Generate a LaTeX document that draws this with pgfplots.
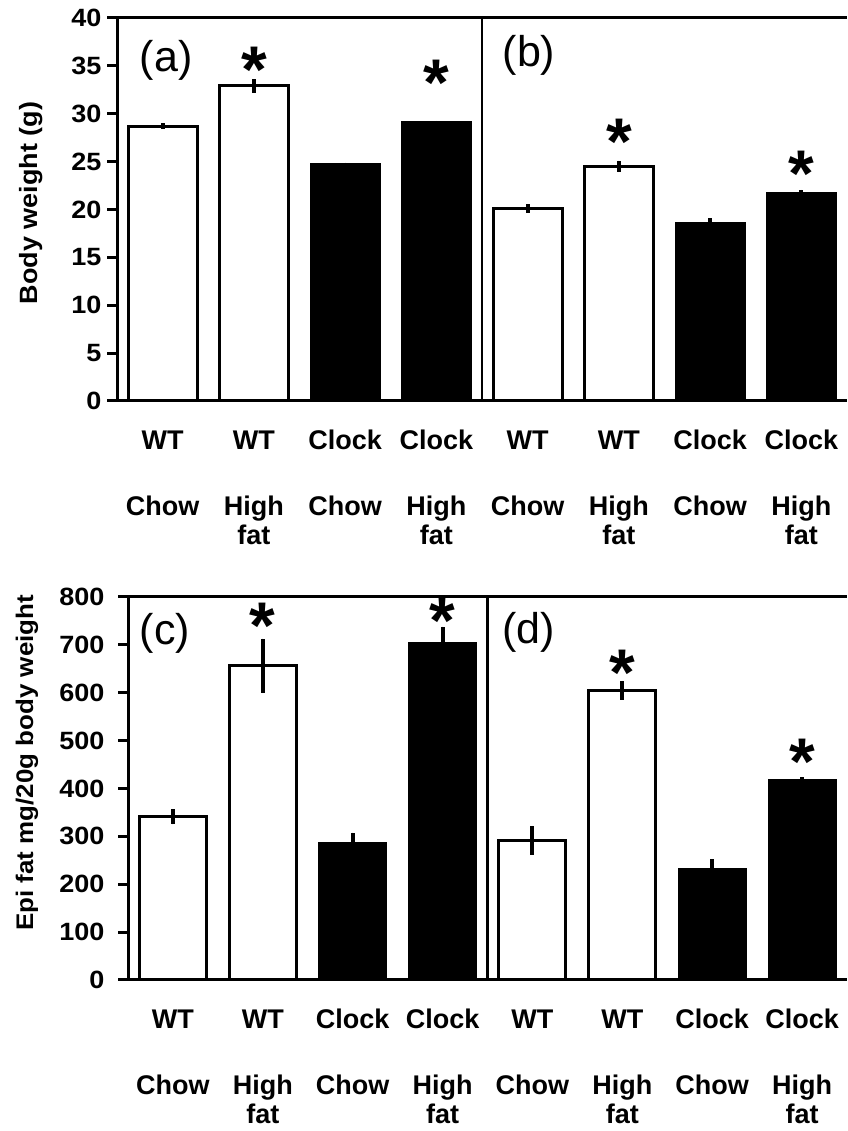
\documentclass[border=0pt]{standalone}
\usepackage{fontspec}
\setmainfont{Liberation Sans}
\newfontfamily\widefont{Liberation Sans}[FakeStretch=1.08]
\usepackage{pgfplots}
\pgfplotsset{compat=1.18}
\newcommand{\tickfont}{\widefont\fontsize{25}{25}\selectfont\bfseries}
\newcommand{\catfont}{\fontsize{27}{29}\selectfont\bfseries}
\newcommand{\panfont}{\fontsize{43}{43}\selectfont}
\newcommand{\starfont}{\fontsize{66}{66}\selectfont\bfseries}
\newcommand{\fl}{\rule{0pt}{20pt}}
\pgfplotsset{
  panel/.style={
    scale only axis,
    height=383pt,
    xmin=-0.5, xmax=7.5, ymin=0,
    axis lines*=left,
    axis line style={line width=3pt},
    ybar, bar shift=0pt,
    clip=false,
    tick align=outside,
    major tick length=10pt,
    ytick style={line width=3pt, black},
    xtick={0,...,7},
    xtick style={draw=none},
    xticklabels={{\fl WT\\[37pt]Chow},{\fl WT\\[37pt]High\\fat},{\fl Clock\\[37pt]Chow},{\fl Clock\\[37pt]High\\fat},{\fl WT\\[37pt]Chow},{\fl WT\\[37pt]High\\fat},{\fl Clock\\[37pt]Chow},{\fl Clock\\[37pt]High\\fat}},
    xticklabel style={align=center, anchor=north, inner sep=0pt, yshift=-18pt, font=\catfont},
    yticklabel style={font=\tickfont},
    /pgf/number format/assume math mode=true,
    ylabel style={anchor=center},
  },
  whitebar/.style={fill=white, draw=black, line width=3pt,
    error bars/.cd, y dir=both, y explicit, error mark=none,
    error bar style={line width=4pt, black}},
  blackbar/.style={fill=black, draw=black, line width=2pt,
    error bars/.cd, y dir=both, y explicit, error mark=none,
    error bar style={line width=4pt, black}},
}
\begin{document}
\begin{tikzpicture}
\path[use as bounding box] (0,0) rectangle (847pt,1131pt);
% Top panel: (a) and (b)
\begin{axis}[panel,
  at={(117pt,730pt)}, anchor=south west,
  width=730pt, bar width=69pt,
  ymax=40, ytick={0,5,...,40},
  yticklabel style={xshift=-2pt},
  ylabel={Body weight (g)},
  ylabel style={at={(axis description cs:-0.118,0.517)}, font=\widefont\fontsize{25}{25}\selectfont\bfseries},
]
\addplot[whitebar] coordinates {(0,28.7) +- (0,0.3) (1,32.9) +- (0,0.7) (4,20.1) +- (0,0.45) (5,24.5) +- (0,0.6)};
\addplot[blackbar] coordinates {(2,24.75) +- (0,0.15) (3,29.1) +- (0,0.15) (6,18.6) +- (0,0.5) (7,21.75) +- (0,0.3)};
\draw[line width=3pt] (rel axis cs:0,1) -- (rel axis cs:1,1);
\draw[line width=2.5pt] (axis cs:3.5,0) -- (axis cs:3.5,40);
\node[font=\panfont, anchor=center] at (axis cs:0.04,35.6) {(a)};
\node[font=\panfont, anchor=center] at (axis cs:4.015,36.1) {(b)};
\node[font=\starfont, anchor=north, inner sep=0pt] at (axis cs:1,37.0) {*};
\node[font=\starfont, anchor=north, inner sep=0pt] at (axis cs:3,35.6) {*};
\node[font=\starfont, anchor=north, inner sep=0pt] at (axis cs:5,29.5) {*};
\node[font=\starfont, anchor=north, inner sep=0pt] at (axis cs:7,26.1) {*};
\end{axis}
% Bottom panel: (c) and (d)
\begin{axis}[panel,
  at={(128pt,151pt)}, anchor=south west,
  width=719pt, bar width=67pt,
  ymax=800, ytick={0,100,...,800},
  yticklabel style={xshift=-10pt},
  ylabel={Epi fat mg/20g body weight},
  ylabel style={at={(axis description cs:-0.1405,0.567)}, font=\widefont\fontsize{24}{24}\selectfont\bfseries},
]
\addplot[whitebar] coordinates {(0,341) +- (0,16) (1,656) +- (0,57) (4,292) +- (0,30) (5,605) +- (0,20)};
\addplot[blackbar] coordinates {(2,287) +- (0,21) (3,703) +- (0,35) (6,231) +- (0,21) (7,417) +- (0,6)};
\draw[line width=3pt] (rel axis cs:0,1) -- (rel axis cs:1,1);
\draw[line width=2.5pt] (axis cs:3.5,0) -- (axis cs:3.5,800);
\node[font=\panfont, anchor=center] at (axis cs:-0.088,724) {(c)};
\node[font=\panfont, anchor=center] at (axis cs:3.96,727) {(d)};
\node[font=\starfont, anchor=north, inner sep=0pt] at (axis cs:1,787) {*};
\node[font=\starfont, anchor=north, inner sep=0pt] at (axis cs:3,798) {*};
\node[font=\starfont, anchor=north, inner sep=0pt] at (axis cs:5,689) {*};
\node[font=\starfont, anchor=north, inner sep=0pt] at (axis cs:7,504) {*};
\end{axis}
\end{tikzpicture}
\end{document}
